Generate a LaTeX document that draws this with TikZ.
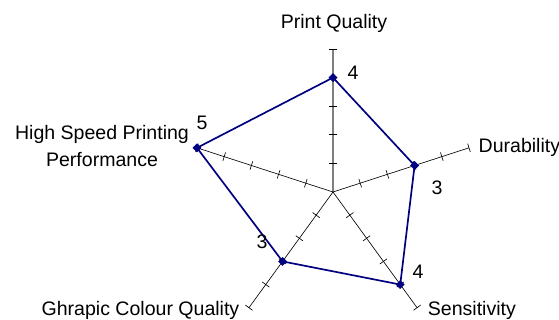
\documentclass[tikz,border=0pt]{standalone}
\usepackage{fontspec}
\setmainfont{Liberation Sans}
\usetikzlibrary{shapes.geometric}

\tikzset{
    axisline/.style={black, line width=0.45pt},
    tickmark/.style={black, line width=0.45pt},
    series/.style={draw=navy, line width=1.2pt, line join=round},
    point/.style={diamond, fill=navy, inner sep=0pt, minimum size=6.5pt},
    catlabel/.style={font=\fontsize{13.9}{19}\selectfont, inner sep=1pt},
    vallabel/.style={font=\fontsize{13.9}{16}\selectfont, inner sep=1pt}
}
\definecolor{navy}{RGB}{0,0,128}

\begin{document}
\begin{tikzpicture}

\useasboundingbox (-8.325,-3.2) rectangle (5.65,4.8);

% value axis (top), gray
\draw[gray, line width=0.8pt] (0,0) -- (90:3.575);

\begin{scope}[rotate=90]
    \foreach \v in {1,...,5}
        \draw[tickmark] (\v*0.715,-0.11) -- (\v*0.715,0.11);
\end{scope}

% category axes
\begin{scope}[rotate=18]
    \draw[axisline] (0,0) -- (3.575,0);
    \foreach \v in {1,...,5}
        \draw[tickmark] (\v*0.715,-0.11) -- (\v*0.715,0.11);
\end{scope}

\begin{scope}[rotate=-54]
    \draw[axisline] (0,0) -- (3.575,0);
    \foreach \v in {1,...,5}
        \draw[tickmark] (\v*0.715,-0.11) -- (\v*0.715,0.11);
\end{scope}

\begin{scope}[rotate=-126]
    \draw[axisline] (0,0) -- (3.575,0);
    \foreach \v in {1,...,5}
        \draw[tickmark] (\v*0.715,-0.11) -- (\v*0.715,0.11);
\end{scope}

\begin{scope}[rotate=162]
    \draw[axisline] (0,0) -- (3.575,0);
    \foreach \v in {1,...,5}
        \draw[tickmark] (\v*0.715,-0.11) -- (\v*0.715,0.11);
\end{scope}

% data series
\coordinate (quality) at (90:2.86);
\coordinate (durability) at (18:2.145);
\coordinate (sensitivity) at (-54:2.86);
\coordinate (colour) at (-126:2.145);
\coordinate (speed) at (162:3.575);

\draw[series] (quality) -- (durability) -- (sensitivity) -- (colour) -- (speed) -- cycle;

\node[point] (mquality) at (quality) {};
\node[point] (mdurability) at (durability) {};
\node[point] (msensitivity) at (sensitivity) {};
\node[point] (mcolour) at (colour) {};
\node[point] (mspeed) at (speed) {};

% value labels
\node[vallabel] (vquality) at (0.5,2.975) {4};
\node[vallabel] (vdurability) at (2.6,0.1) {3};
\node[vallabel] (vsensitivity) at (2.125,-2.0) {4};
\node[vallabel] (vcolour) at (-1.775,-1.25) {3};
\node[vallabel] (vspeed) at (-3.275,1.725) {5};

% category labels
\node[catlabel] (lquality) at (0.025,4.225) {Print Quality};
\node[catlabel, anchor=west] (ldurability) at (3.6,1.125) {Durability};
\node[catlabel, anchor=west] (lsensitivity) at (2.33,-2.95) {Sensitivity};
\node[catlabel, anchor=east] (lcolour) at (-2.3,-2.95) {Ghrapic Colour Quality};
\node[catlabel, align=center] (lspeed) at (-5.775,1.15) {High Speed Printing\\Performance};

\end{tikzpicture}
\end{document}
